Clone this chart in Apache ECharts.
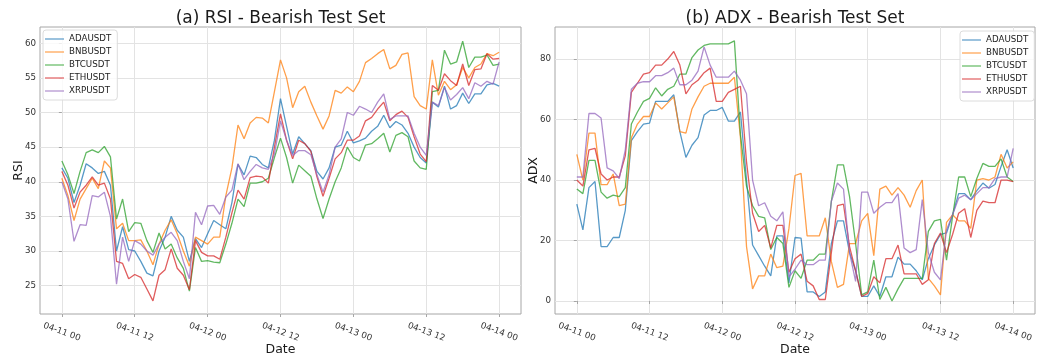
<!DOCTYPE html>
<html><head><meta charset="utf-8">
<script src="https://cdn.jsdelivr.net/npm/echarts@6/dist/echarts.min.js"></script>
<style>html,body{margin:0;padding:0;background:#fff}#c{width:1038px;height:356px}</style>
</head><body><div id="c"></div>
<script>
const seriesNames = ['ADAUSDT','BNBUSDT','BTCUSDT','ETHUSDT','XRPUSDT'];
const seriesColors = ['#1f77b4','#ff7f0e','#2ca02c','#d62728','#9467bd'];
const xTickLabels = ['04-11 00','04-11 12','04-12 00','04-12 12','04-13 00','04-13 12','04-14 00'];
const rsiTicks = [25,30,35,40,45,50,55,60];
const adxTicks = [0,20,40,60,80];
// hourly samples, 04-11 00 .. 04-14 00 (73 points)
const rsiADA = [42,40.5,37,39.5,42.6,42,41.2,41.5,39.5,30,33.5,30.2,30,28.5,26.8,26.4,30,32,35,33,32,28.5,31.8,30.5,32.5,34.4,33.8,33.2,37,42.5,41,43.7,43.5,42.5,42,46,52,48,44,46.5,45.5,44.5,41.5,40.4,42,45,45.3,47.3,45.6,45.9,46.3,47.3,48,49.6,47.8,48.7,48.2,47,45,43.5,42.7,51.5,50.8,53.8,50.5,51,52.8,51.3,52.7,52.7,54,54.2,53.8];
const rsiBNB = [40.5,38,34.4,37.5,39,40.5,39,43,42,33.2,34,31.5,31.5,31.6,30,28,31,33,34.5,32.5,30,27.8,32,31.5,31,32,32,38,42,48.2,46.2,48.5,49.3,49.2,48.5,53,57.6,55,50.7,53,53.8,51.5,49.5,47.6,49.5,53.2,52.8,53.7,53,54.5,57.2,57.8,58.5,59.1,56.3,56.8,58.4,58.6,52.3,51,50.5,57.6,52.5,54.5,53.3,54,56.5,55,56.5,57,58.5,58.2,58.7];
const rsiBTC = [43,41,38.3,41.5,44.2,44.6,44.2,45.1,43.6,34.6,37.5,32.8,34.1,34,31.5,29.8,32.6,30.3,31,29,27.5,24.2,30.5,28.5,28.6,28.4,28.3,31,34,37.5,36.4,39.8,39.8,40,40.5,43.5,46.3,43.5,39.8,42.4,41.6,40.8,37.5,34.7,37.5,40,42,45,43.5,43,45.3,45.5,46.2,47,44.3,46.7,47.1,46.5,43,42,41.8,53,53.2,59,57,57.3,60.3,56.5,58,58,58.3,56.8,57];
const rsiETH = [41.5,39.5,36.2,38.5,39.5,40.7,39.5,39.8,37.5,28.5,28.2,26,26.6,26.2,24.5,22.8,26.5,27.3,30.3,27.5,26.5,24.4,31.5,29.8,29.3,29.3,28.8,32,35.5,38.8,37.5,40.6,40.8,40.7,39.8,45,49.8,46,43.3,46,45.5,44.4,40.7,37.9,40.5,43.3,44.2,46,46,46.6,48.8,49.3,50.5,51.5,48.8,49.7,50.2,49.3,46.5,44,42.9,53.9,53.2,55.6,54.6,53.9,57,53.9,56.2,56.3,58.5,57.7,57.8];
const rsiXRP = [40,37.5,31.4,33.8,33.7,38,37.8,38.5,35,25.2,32,28.5,31.5,31,30,29.4,31,32,32.7,31.5,28.5,26,35.6,33.8,36.5,36.6,35.3,37.8,38.8,42.6,40.3,41.5,42.5,42,41.8,44,48.8,46,43.8,44.5,44.5,43.9,41,38.5,41,45,46.2,50,49.6,50.9,50.5,50,51.5,52.7,49,49.5,49.5,49.5,47,45,43.8,51.5,51,53.6,51.8,52.6,53.6,52,54.3,53.8,54.5,54.1,57.3];
const adxADA = [32,23.5,37.5,39.5,18,18,21,21,30,53,56,58.5,58.8,66,66,66,68.2,56,47.5,51.5,54,61.5,63,63,64,59.5,59.5,62.5,40,18.5,15,11.5,8.3,21.5,21.5,6,21,20.8,3,3,1.5,3,19,26.5,26.5,16,10,1.5,1.5,5,1.5,8,8,14.5,12.2,12.2,10,7,14,18.5,22,22.5,28.5,35.5,35.5,33.5,36.5,39,37.3,38.5,44.5,50,44];
const adxBNB = [48.5,40,55.5,55.5,38.5,38.5,42,31.5,32,54,58.5,61,61,65.5,63.5,65.5,67.5,56,55.5,63.5,67.5,71,72,72,72,72,74,54,18,4,8.3,8.3,15.5,11,11.5,24,41.5,42.2,21.5,21.5,21.5,27.5,13,4.5,5.5,19,19,26.5,29,15,37,38,35,37.5,35,31,36.5,40,7.5,5,2,26,28.5,26.5,26.5,24,40,40.5,40,41,48.5,44,46];
const adxBTC = [37,35.5,46.5,46.5,36,34,35,34.5,37.5,58.5,62.5,66,67,70.5,67.8,70,71,75,75,80.5,83,84.5,85,85,85,85,86,55,38,31.5,28,27.5,17,21,19,4.5,10,7.5,13.5,13.5,15.5,15.5,33,45,45,34.5,19,2,3,13.5,0.5,4.5,0,4,7.5,7.5,7.5,7.5,23,26.5,27,13.5,28,41,41,34.5,40.5,45.5,44.5,44.5,47,41,39.5];
const adxETH = [40,38,50,50.5,42,40,41,41,48,69,72,75,75.5,78,78,80,82.5,78,68.5,71.5,73,75.5,77,66,66,69,70,71,46,29,23,25,17.5,25,25,9.5,14,15.5,6.5,5,0.5,0.5,16,31.5,32,18,10,1.5,2.5,8,6,14,14,18.5,9,9,9,5.5,7,19,22.5,16,22,29,30.5,21,30,33,32.5,32.5,40,40,39.5];
const adxXRP = [41,41,62,62,60.5,44,43,40.5,50,70,72,72.5,72.5,74.5,74.5,75.5,77,71.5,71.5,73,76,84,78,74,74,74,76,73,68.5,40,31.5,32.5,28,26.5,29.5,8,10.5,13.5,12,12,13.5,13.5,33,39,37,16,6.5,36,36,29,31,32.5,32.5,35.5,17.5,16,17,33.5,16,9.5,7,23.5,28.5,34,35,33.5,35.5,37.5,37.5,40.5,41,41,50.5];

const panels = [
  {title:'(a) RSI - Bearish Test Set', yName:'RSI', data:[rsiADA,rsiBNB,rsiBTC,rsiETH,rsiXRP], yMin:20.9, yMax:62.35, split:8, yTicks:rsiTicks},
  {title:'(b) ADX - Bearish Test Set', yName:'ADX', data:[adxADA,adxBNB,adxBTC,adxETH,adxXRP], yMin:-4.3, yMax:90.6, split:5, yTicks:adxTicks}
];
const xTickPos = xTickLabels.map((_,i)=>i);
const FONT = 'DejaVu Sans';
const grids = [{left:40, top:27, width:481, height:287}, {left:555, top:27, width:480, height:287}];
const chart = echarts.init(document.getElementById('c'), null, {renderer:'canvas'});
const opt = {
  animation:false, backgroundColor:'#fff',
  title: panels.map((p,i)=>({text:p.title, left: grids[i].left + grids[i].width/2, textAlign:'center', top:10, padding:0,
    textStyle:{fontFamily:FONT, fontSize:17, fontWeight:'normal', color:'#1a1a1a'}})),
  grid: grids.map(g=>Object.assign({show:true, containLabel:false, outerBoundsMode:'none', borderColor:'#a6a6a6', borderWidth:1, backgroundColor:'transparent'}, g)),
  legend: [
    {data:seriesNames, orient:'vertical', left:43, top:30},
    {data:seriesNames, orient:'vertical', left:960, top:31}
  ].map(l=>Object.assign(l,{icon:'rect', itemWidth:19, itemHeight:1.5, itemGap:3, padding:[4,6,4,2], backgroundColor:'rgba(255,255,255,0.8)',
     itemStyle:{opacity:0.6},
     borderColor:'#dcdcdc', borderWidth:1, borderRadius:3, textStyle:{fontFamily:FONT, fontSize:8.7, color:'#222', lineHeight:10}})),
  xAxis: panels.map((p,i)=>({type:'value', gridIndex:i, min:-0.3, max:6.3, splitNumber:6,
    name:'Date', nameLocation:'middle', nameGap:29, nameMoveOverlap:false, nameTextStyle:{fontFamily:FONT, fontSize:12.5, color:'#1a1a1a'},
    axisLine:{show:false}, axisTick:{show:true, length:3, customValues:xTickPos, lineStyle:{color:'#a6a6a6'}},
    axisLabel:{customValues:xTickPos, rotate:-20, align:'center', verticalAlign:'middle', margin:18,
      fontFamily:FONT, fontSize:8.7, color:'#333', formatter:v=>xTickLabels[Math.round(v)] || ''},
    splitLine:{show:true, lineStyle:{color:'#e3e3e3', width:1}}})),
  yAxis: panels.map((p,i)=>({type:'value', gridIndex:i, min:p.yMin, max:p.yMax, splitNumber:p.split,
    name:p.yName, nameLocation:'middle', nameGap:15, nameMoveOverlap:false, nameTextStyle:{fontFamily:FONT, fontSize:12.5, color:'#1a1a1a'},
    axisLine:{show:false}, axisTick:{show:true, length:3, customValues:p.yTicks, lineStyle:{color:'#a6a6a6'}},
    axisLabel:{customValues:p.yTicks, margin:4, fontFamily:FONT, fontSize:8.7, color:'#333'},
    splitLine:{show:true, lineStyle:{color:'#e3e3e3', width:1}}})),
  series: []
};
panels.forEach((p,pi)=>{
  p.data.forEach((vals,si)=>{
    opt.series.push({type:'line', name:seriesNames[si], xAxisIndex:pi, yAxisIndex:pi,
      data: vals.map((v,h)=>[h/12, v]), symbol:'none', showSymbol:false,
      color: seriesColors[si],
      lineStyle:{width:1.3, color:seriesColors[si], opacity:0.75}, itemStyle:{color:seriesColors[si]}});
  });
});
chart.setOption(opt);
</script></body></html>
